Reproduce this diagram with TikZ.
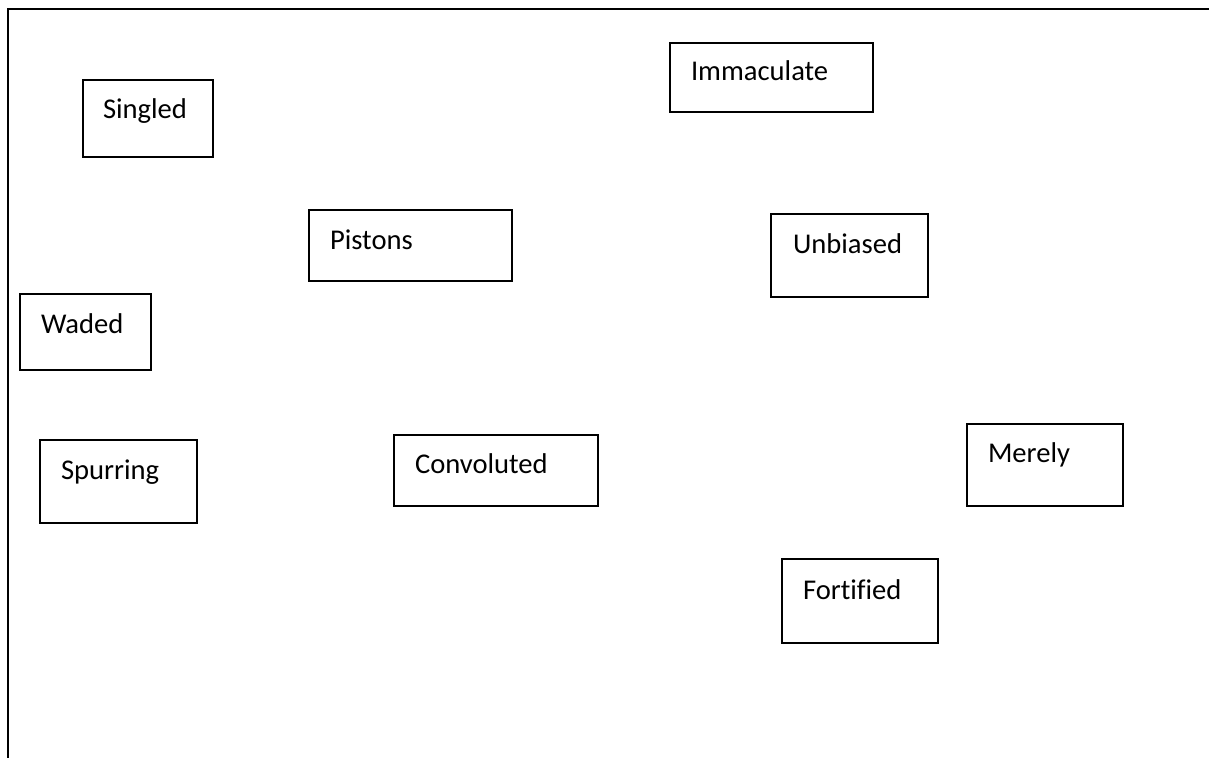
\documentclass[tikz,border=0pt]{standalone}
\usepackage{fontspec}
\setmainfont[Ligatures=NoCommon]{Carlito}
\tikzset{
  wbox/.style={draw=black, line width=1.6pt, inner sep=0pt, outer sep=0pt, fill=white},
  wtext/.style={inner sep=0pt, outer sep=0pt, font=\fontsize{28.6}{33}\selectfont, text=black},
  frameline/.style={line width=2pt, black}
}
\newcommand\wordbox[8]{%
  \node[wbox, minimum width={(#4-#2)*1pt}, minimum height={(#5-#3)*1pt}, anchor=north west] (#1) at (#2,#3) {};
  \node[wtext, anchor=base west] (#1-t) at (#6,#7) {#8};
}
\begin{document}
\begin{tikzpicture}[x=1pt, y=-1pt]
\useasboundingbox (0,0) rectangle (1209,758);
\coordinate (ftop) at (1209,9);
\coordinate (fcorner) at (8,9);
\coordinate (fbottom) at (8,758);
\draw[frameline] (ftop) -- (fcorner) -- (fbottom);
\wordbox{singled}{83}{80}{213}{157}{103}{118}{Singled}
\wordbox{waded}{20}{294}{151}{370}{41}{333}{Waded}
\wordbox{spurring}{40}{440}{197}{523}{61}{479}{Spurring}
\wordbox{pistons}{309}{210}{512}{281}{330}{249}{Pistons}
\wordbox{immaculate}{670}{43}{873}{112}{691}{80}{Immaculate}
\wordbox{unbiased}{771}{214}{928}{297}{793}{253}{Unbiased}
\wordbox{convoluted}{394}{435}{598}{506}{415}{473}{Convoluted}
\wordbox{merely}{967}{424}{1123}{506}{988}{462}{Merely}
\wordbox{fortified}{782}{559}{938}{643}{803}{599}{Fortified}
\end{tikzpicture}
\end{document}
